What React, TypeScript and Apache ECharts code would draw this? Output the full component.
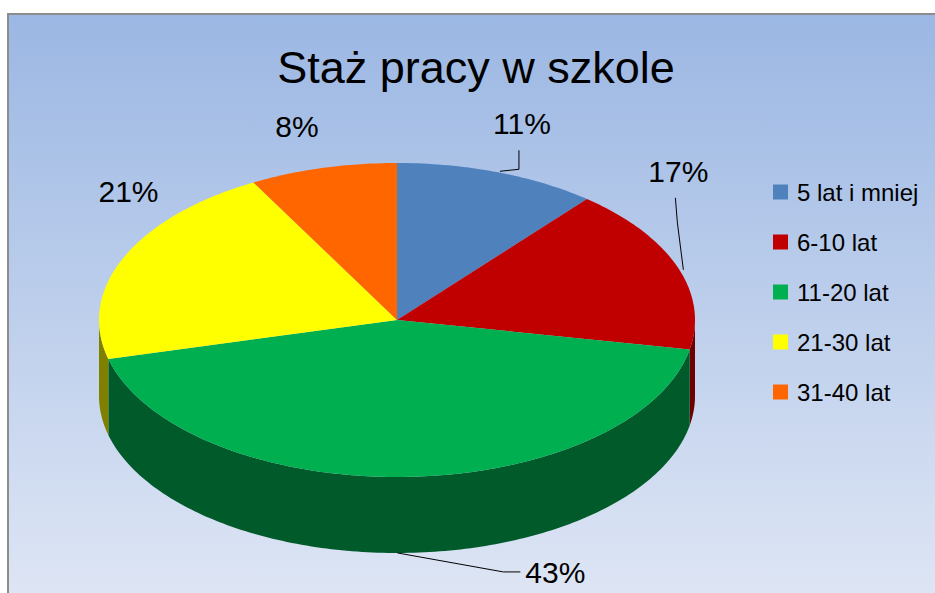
import React, { useEffect, useRef } from "react";
import * as echarts from "echarts";

// ---- data ----
const categories = ["5 lat i mniej", "6-10 lat", "11-20 lat", "21-30 lat", "31-40 lat"];
const shares = [11, 17, 43, 21, 8];
const titleText = "Staż pracy w szkole";

// ---- styles / layout ----
const topColors = ["#4f81bd", "#c00000", "#00b050", "#ffff00", "#ff6600"];
const sideColors = ["#2f4d71", "#6e0000", "#005a2a", "#808000", "#993d00"];
const FONT = "'Liberation Sans', Arial, sans-serif";

const CX = 397;
const CY = 320;
const RX = 298;
const RY = 157;
const DEPTH = 76;

// label offsets relative to the slice anchor, and leader polyline offsets
const labelLayout: { dx: number; dy: number; leader: number[][] | null }[] = [
  { dx: 24, dy: -49, leader: [[2, -1], [21, -3], [21, -22]] },
  { dx: 1, dy: -95, leader: [[6, 3], [0, -44], [-2, -69]] },
  { dx: 149, dy: 20, leader: [[-9, 0], [97, 19], [114, 19]] },
  { dx: 5, dy: -66, leader: null },
  { dx: -26, dy: -41, leader: null },
];

function pt(t: number, dy = 0): number[] {
  return [CX + RX * Math.sin(t), CY - RY * Math.cos(t) + dy];
}

function arcPoints(a: number, b: number, dy: number): number[][] {
  const n = Math.max(2, Math.ceil((b - a) / (Math.PI / 180)));
  const pts: number[][] = [];
  for (let k = 0; k <= n; k++) pts.push(pt(a + ((b - a) * k) / n, dy));
  return pts;
}

function renderSlice(i: number, api: any) {
  const total = shares.reduce((s, v) => s + v, 0);
  const before = shares.slice(0, i).reduce((s, v) => s + v, 0);
  const v = Number(api.value(0));
  const a = (before / total) * Math.PI * 2;
  const b = a + (v / total) * Math.PI * 2;
  const children: any[] = [];

  const fa = Math.max(a, Math.PI / 2);
  const fb = Math.min(b, (Math.PI * 3) / 2);
  if (fb > fa) {
    const top = arcPoints(fa, fb, 0);
    const bottom = arcPoints(fa, fb, DEPTH).reverse();
    children.push({
      type: "polygon",
      z2: 1,
      shape: { points: top.concat(bottom) },
      style: { fill: sideColors[i] },
    });
  }
  children.push({
    type: "polygon",
    z2: 2,
    shape: { points: [[CX, CY], ...arcPoints(a, b, 0)] },
    style: { fill: topColors[i] },
  });

  const mid = (a + b) / 2;
  const anchor = Math.cos(mid) < 0 ? pt(mid, DEPTH) : pt(mid, 0);
  const lay = labelLayout[i];
  if (lay.leader) {
    children.push({
      type: "polyline",
      z2: 3,
      shape: { points: lay.leader.map(([dx, dy]) => [anchor[0] + dx, anchor[1] + dy]) },
      style: { stroke: "#000", lineWidth: 1, fill: null },
    });
  }
  children.push({
    type: "text",
    z2: 4,
    x: anchor[0] + lay.dx,
    y: anchor[1] + lay.dy,
    style: {
      text: Math.round((v / total) * 100) + "%",
      fontSize: 30,
      fontFamily: FONT,
      fill: "#000",
      align: "center",
      verticalAlign: "middle",
    },
  });
  return { type: "group", children };
}

export default function App() {
  const ref = useRef<HTMLDivElement>(null);
  useEffect(() => {
    if (!ref.current) return;
    const chart = echarts.init(ref.current, undefined, { renderer: "svg" });
    chart.setOption({
      animation: false,
      backgroundColor: "#ffffff",
      graphic: [
        {
          type: "rect",
          z: 0,
          silent: true,
          shape: { x: 8, y: 14, width: 940, height: 600 },
          style: {
            fill: new echarts.graphic.LinearGradient(0, 0, 0, 1, [
              { offset: 0, color: "#9bb7e3" },
              { offset: 1, color: "#e0e7f5" },
            ]),
            stroke: "#8c8c8c",
            lineWidth: 2,
          },
        },
        {
          type: "text",
          z: 1,
          x: 476,
          y: 67,
          style: {
            text: titleText,
            fontSize: 45,
            fontFamily: FONT,
            fill: "#000",
            align: "center",
            verticalAlign: "middle",
          },
        },
      ],
      legend: {
        orient: "vertical",
        left: 773,
        top: 180,
        padding: 0,
        itemWidth: 15,
        itemHeight: 15,
        itemGap: 26,
        icon: "rect",
        textStyle: {
          fontSize: 24,
          lineHeight: 24,
          fontFamily: FONT,
          color: "#000",
          padding: [0, 0, 0, 4],
        },
        data: categories,
      },
      series: categories.map((name, i) => ({
        type: "custom",
        name,
        coordinateSystem: "none",
        itemStyle: { color: topColors[i] },
        data: [[shares[i]]],
        renderItem: (_params: any, api: any) => renderSlice(i, api),
      })),
    });
    return () => chart.dispose();
  }, []);
  return (
    <div
      ref={ref}
      style={{ position: "fixed", left: 0, top: 0, width: 935, height: 593 }}
    />
  );
}
